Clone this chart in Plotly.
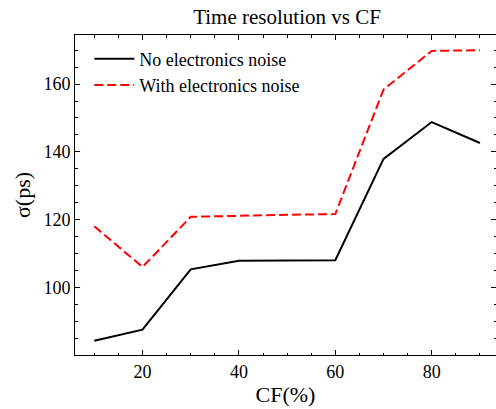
"""Time resolution vs CF line plot"""
import plotly.graph_objects as go

# data
cf = [10, 20, 30, 40, 50, 60, 70, 80, 90]
no_noise = [84.2, 87.5, 105.3, 107.8, 107.9, 108.0, 137.9, 148.8, 142.6]
with_noise = [118.0, 106.0, 120.8, 121.2, 121.4, 121.6, 158.4, 169.8, 170.0]

FONT = "Liberation Serif"
XR = [6, 93.33]
YR = [80.0, 174.5]

fig = go.Figure()
fig.add_trace(
    go.Scatter(
        x=cf,
        y=no_noise,
        mode="lines",
        name="No electronics noise",
        line=dict(color="black", width=2),
    )
)
fig.add_trace(
    go.Scatter(
        x=cf,
        y=with_noise,
        mode="lines",
        name="With electronics noise",
        line=dict(color="red", width=2, dash="9px,4px"),
    )
)
# dummy trace so the mirrored top/right tick axes get drawn
fig.add_trace(
    go.Scatter(
        x=[cf[0]],
        y=[no_noise[0]],
        xaxis="x2",
        yaxis="y2",
        mode="markers",
        marker=dict(opacity=0),
        showlegend=False,
        hoverinfo="skip",
    )
)

minor_ticks = dict(dtick=5, tick0=0, ticks="inside", ticklen=2.5, tickcolor="black")

fig.update_layout(
    width=496,
    height=409,
    margin=dict(l=75, r=0, t=35, b=54),
    plot_bgcolor="white",
    paper_bgcolor="white",
    font=dict(family=FONT, size=18, color="black"),
    title=dict(
        text="Time resolution vs CF",
        x=(287 / 496),
        xanchor="center",
        y=1 - 17 / 409,
        yanchor="middle",
        font=dict(family=FONT, size=21, color="black"),
    ),
    showlegend=True,
    legend=dict(
        x=0.034,
        y=0.983,
        xanchor="left",
        yanchor="top",
        bgcolor="rgba(0,0,0,0)",
        font=dict(family=FONT, size=18),
        itemwidth=40,
    ),
    xaxis=dict(
        title=dict(text="CF(%)", standoff=6),
        automargin=False,
        range=XR,
        showgrid=False,
        zeroline=False,
        showline=True,
        linecolor="black",
        linewidth=1,
        ticks="inside",
        ticklen=5,
        tickcolor="black",
        tickvals=[20, 40, 60, 80],
        minor=minor_ticks,
    ),
    yaxis=dict(
        title=dict(text="σ(ps)", standoff=6),
        automargin=False,
        range=YR,
        showgrid=False,
        zeroline=False,
        showline=True,
        linecolor="black",
        linewidth=1,
        ticks="inside",
        ticklen=5,
        tickcolor="black",
        tickvals=[100, 120, 140, 160],
        minor=minor_ticks,
    ),
    xaxis2=dict(
        overlaying="x",
        side="top",
        automargin=False,
        range=XR,
        showgrid=False,
        zeroline=False,
        showline=True,
        linecolor="black",
        linewidth=1,
        ticks="inside",
        ticklen=5,
        tickcolor="black",
        tickvals=[20, 40, 60, 80],
        showticklabels=False,
        minor=minor_ticks,
    ),
    yaxis2=dict(
        overlaying="y",
        side="right",
        automargin=False,
        range=YR,
        showgrid=False,
        zeroline=False,
        showline=False,
        ticks="inside",
        ticklen=5,
        tickcolor="black",
        tickvals=[100, 120, 140, 160],
        showticklabels=False,
        minor=minor_ticks,
    ),
)

# drop the default page margin so the figure sits at the window's corner
fig.write_html(
    "out.html",
    config={"displayModeBar": False},
    post_script="document.body.style.margin = '0';",
)
